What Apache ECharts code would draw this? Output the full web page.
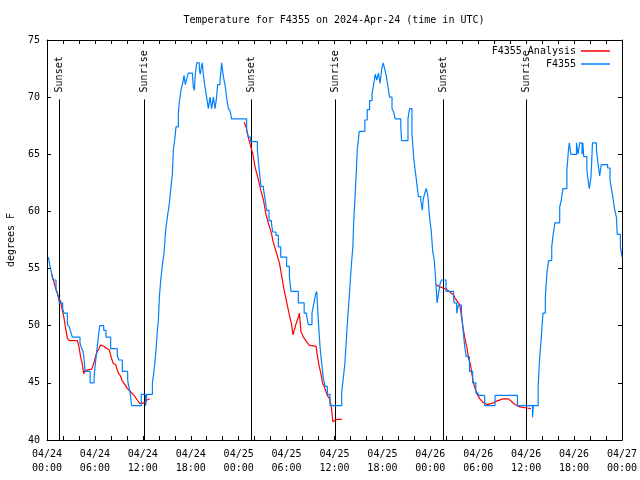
<!DOCTYPE html>
<html><head><meta charset="utf-8">
<script src="https://cdn.jsdelivr.net/npm/echarts@6/dist/echarts.min.js"></script>
<style>html,body{margin:0;padding:0;background:#fff}#c{width:640px;height:480px}</style>
</head><body><div id="c"></div>
<script>
// ---- data (hours since 04/24 00:00 UTC, degrees F) ----
const titleText = 'Temperature for F4355 on 2024-Apr-24 (time in UTC)';
const yAxisName = 'degrees F';
const seriesNames = ['F4355 Analysis', 'F4355'];
const xTickLabels = ['04/24\n00:00','04/24\n06:00','04/24\n12:00','04/24\n18:00','04/25\n00:00','04/25\n06:00','04/25\n12:00','04/25\n18:00','04/26\n00:00','04/26\n06:00','04/26\n12:00','04/26\n18:00','04/27\n00:00'];
const sunTimes = [1.54, 12.18, 25.58, 36.1, 49.62, 60.02];
const sunLabels = ['Sunset','Sunrise','Sunset','Sunrise','Sunset','Sunrise'];

const analysisNight1 = [[0.58,54.5],[0.8,54.0],[1.03,53.4],[1.3,52.8],[1.52,52.4],[1.7,52.1],[1.9,51.4],[2.1,50.8],[2.3,49.9],[2.55,48.9],[2.8,48.7],[3.8,48.7],[4.0,48.2],[4.2,47.3],[4.4,46.7],[4.6,45.8],[4.8,46.1],[5.0,46.1],[5.6,46.2],[5.8,46.6],[6.0,47.1],[6.2,47.6],[6.5,48.0],[6.7,48.3],[7.1,48.2],[7.5,48.0],[7.8,47.9],[7.9,47.6],[8.1,47.1],[8.3,46.7],[8.6,46.6],[8.8,46.1],[9.0,45.8],[9.2,45.6],[9.4,45.2],[9.6,45.0],[9.8,44.8],[10.06,44.5],[10.5,44.2],[10.9,43.9],[11.3,43.5],[11.6,43.2],[11.9,43.2],[12.3,43.3],[12.5,43.5],[12.85,43.6]];
const analysisNight2 = [[24.7,67.8],[25.0,67.2],[25.2,66.5],[25.5,65.7],[25.75,65.1],[26.05,63.9],[26.5,62.7],[26.75,61.9],[27.1,61.0],[27.4,59.8],[27.7,59.0],[28.1,58.1],[28.3,57.4],[28.76,56.3],[29.1,55.5],[29.4,54.3],[29.7,53.1],[30.0,52.1],[30.3,51.1],[30.6,50.2],[30.8,49.2],[30.95,49.3],[31.2,50.2],[31.5,50.8],[31.6,51.1],[31.8,49.5],[32.1,49.0],[32.5,48.6],[32.8,48.3],[33.7,48.2],[33.8,47.6],[34.1,46.4],[34.3,45.8],[34.5,45.0],[34.8,44.5],[35.1,43.9],[35.4,43.6],[35.6,42.9],[35.8,41.6],[36.1,41.75],[36.4,41.8],[36.9,41.8]];
const analysisNight3 = [[48.7,53.6],[49.2,53.4],[49.6,53.3],[50.05,53.2],[50.5,52.9],[50.9,52.7],[51.1,52.4],[51.4,52.1],[51.7,51.8],[51.9,50.8],[52.1,49.8],[52.3,49.0],[52.6,48.0],[52.8,47.1],[53.0,46.7],[53.2,45.8],[53.4,45.0],[53.6,44.5],[53.8,44.1],[54.2,43.6],[54.6,43.3],[55.1,43.1],[55.7,43.2],[56.3,43.4],[57.1,43.6],[57.8,43.6],[58.2,43.35],[58.6,43.1],[59.2,42.9],[60.1,42.8],[60.6,42.75]];

const observed = [[0.17,56.0],[0.3,55.5],[0.45,55.0],[0.6,54.5],[0.75,54.0],[1.13,53.1],[1.3,52.9],[1.54,52.0],[1.96,51.5],[2.13,51.1],[2.55,50.1],[2.8,49.9],[2.96,49.5],[3.17,49.0],[4.13,48.5],[4.34,48.0],[4.5,47.8],[4.67,46.9],[4.76,46.0],[5.4,45.0],[5.9,45.5],[6.0,46.3],[6.2,47.6],[6.43,49.0],[6.6,50.0],[7.1,49.6],[7.39,49.0],[7.97,48.0],[8.8,47.4],[9.0,47.0],[9.43,46.0],[10.1,45.25],[10.2,44.8],[10.4,44.2],[10.6,43.0],[11.8,44.0],[12.35,43.0],[12.5,44.0],[13.2,45.0],[13.35,45.8],[13.5,46.7],[13.65,47.9],[13.82,49.6],[13.95,50.5],[14.07,52.5],[14.24,54.0],[14.48,55.5],[14.65,56.3],[14.86,58.4],[15.07,59.5],[15.32,60.7],[15.49,61.9],[15.7,63.3],[15.82,65.4],[16.03,66.5],[16.15,67.4],[16.45,68.6],[16.57,69.6],[16.78,70.6],[16.99,71.2],[17.16,71.9],[17.32,71.1],[17.49,71.6],[17.7,72.1],[18.2,72.1],[18.32,70.9],[18.45,70.6],[18.57,72.0],[18.74,73.0],[18.95,73.0],[19.07,72.5],[19.2,72.0],[19.32,72.6],[19.45,73.0],[19.57,72.0],[19.78,70.9],[19.99,70.0],[20.2,69.0],[20.41,70.0],[20.62,69.0],[20.83,70.0],[21.04,69.0],[21.24,70.0],[21.37,71.1],[21.66,71.4],[21.87,73.0],[22.08,71.8],[22.29,71.1],[22.5,69.9],[22.71,69.0],[22.91,68.8],[23.12,68.1],[25.0,67.1],[25.21,66.5],[25.5,66.1],[26.34,65.4],[26.59,63.5],[26.8,62.2],[27.1,62.0],[27.3,61.1],[27.5,60.1],[27.8,59.2],[28.1,59.0],[28.26,58.2],[28.67,57.9],[28.97,56.9],[29.26,56.0],[30.0,55.2],[30.35,54.3],[30.55,53.0],[31.47,52.0],[32.2,51.1],[32.5,50.9],[32.72,50.1],[33.18,51.1],[33.43,52.0],[33.64,52.8],[33.77,53.0],[33.97,50.5],[34.18,48.2],[34.39,46.7],[34.6,45.4],[34.81,44.7],[35.1,44.0],[35.44,43.0],[36.9,44.1],[37.1,45.4],[37.3,46.7],[37.5,49.0],[37.7,51.1],[37.9,53.1],[38.1,55.2],[38.3,56.9],[38.4,59.0],[38.55,61.0],[38.7,63.0],[38.85,65.4],[39.1,67.0],[39.8,68.0],[40.1,68.9],[40.4,69.7],[40.7,70.3],[40.9,71.1],[41.1,72.0],[41.3,71.5],[41.5,72.1],[41.7,71.2],[41.9,72.4],[42.1,73.0],[42.3,72.4],[42.5,71.8],[42.7,70.9],[42.9,70.0],[43.2,69.0],[43.4,68.7],[43.6,68.1],[44.3,67.4],[44.4,66.2],[45.2,68.1],[45.4,69.0],[45.7,66.8],[45.9,64.8],[46.1,63.6],[46.3,62.5],[46.5,61.3],[46.8,61.0],[47.0,60.1],[47.1,61.0],[47.3,61.6],[47.5,62.0],[47.7,61.3],[47.9,59.5],[48.1,58.4],[48.3,56.5],[48.5,55.7],[48.6,54.7],[48.7,53.6],[48.85,52.0],[49.0,52.7],[49.2,53.6],[49.4,54.0],[49.96,53.0],[50.9,52.5],[51.0,52.0],[51.3,51.1],[51.5,51.8],[51.9,51.1],[52.0,50.4],[52.1,49.6],[52.3,48.2],[52.5,47.3],[52.9,46.0],[53.3,45.0],[53.7,44.1],[54.0,43.9],[54.8,43.0],[56.1,43.9],[58.9,43.0],[60.8,42.0],[60.9,43.0],[61.5,44.7],[61.7,47.3],[61.9,49.0],[62.1,51.1],[62.4,52.5],[62.6,54.6],[62.8,55.7],[63.2,56.9],[63.4,58.1],[63.6,59.0],[64.2,60.4],[64.4,61.0],[64.6,62.0],[65.1,63.6],[65.3,65.4],[65.4,66.0],[65.6,65.0],[66.3,66.0],[66.5,65.0],[66.7,66.0],[67.0,65.0],[67.1,66.0],[67.2,64.8],[67.6,63.6],[67.8,62.5],[67.9,62.0],[68.1,62.9],[68.2,64.2],[68.3,66.0],[68.8,65.4],[69.0,64.2],[69.2,63.1],[69.3,63.6],[69.4,64.1],[70.2,63.8],[70.5,62.7],[70.7,61.9],[70.9,61.0],[71.1,60.1],[71.3,59.5],[71.4,58.0],[71.8,56.9],[72.0,56.0]];

// ---- chart ----
const FONT = '"DejaVu Sans Mono", monospace';
const RED = '#ff0000', BLUE = '#0080ff';
const X_MIN = 0, X_MAX = 72, Y_MIN = 40, Y_MAX = 75;
const SUN_LINE_TOP = 69.8;

const chart = echarts.init(document.getElementById('c'), null, {renderer: 'canvas'});
const analysisData = analysisNight1.concat([[null, null]], analysisNight2, [[null, null]], analysisNight3);

const axisCommon = {
  axisLine: {show: true, onZero: false, lineStyle: {color: '#000', width: 1}},
  axisTick: {show: true, inside: true, length: 4, lineStyle: {color: '#000'}},
  splitLine: {show: false}
};

chart.setOption({
  animation: false,
  backgroundColor: '#fff',
  textStyle: {fontFamily: FONT, color: '#000'},
  title: {
    text: titleText, left: 334, top: 15, textAlign: 'center', padding: 0,
    textStyle: {fontFamily: FONT, fontSize: 10, fontWeight: 'normal', color: '#000'}
  },
  legend: [
    {data: [seriesNames[0]], right: 30, top: 46, padding: 0, align: 'right', icon: 'rect', itemWidth: 29, itemHeight: 1.5,
     textStyle: {fontFamily: FONT, fontSize: 10, color: '#000'}, selectedMode: false},
    {data: [seriesNames[1]], right: 30, top: 59, padding: 0, align: 'right', icon: 'rect', itemWidth: 29, itemHeight: 1.5,
     textStyle: {fontFamily: FONT, fontSize: 10, color: '#000'}, selectedMode: false}
  ],
  grid: {left: 47, right: 18, top: 40, bottom: 40, containLabel: false, outerBoundsMode: 'none'},
  xAxis: [
    Object.assign({type: 'value', position: 'bottom', min: X_MIN, max: X_MAX, interval: 2,
      axisLabel: {show: true, margin: 7, fontFamily: FONT, fontSize: 10, color: '#000', lineHeight: 14,
        formatter: v => (v % 6 === 0 ? xTickLabels[v / 6] : '')}}, axisCommon),
    Object.assign({type: 'value', position: 'top', min: X_MIN, max: X_MAX, interval: 2,
      axisLabel: {show: false}}, axisCommon)
  ],
  yAxis: [
    Object.assign({type: 'value', position: 'left', min: Y_MIN, max: Y_MAX, interval: 5,
      name: yAxisName, nameLocation: 'middle', nameGap: 31, nameRotate: 90,
      nameTextStyle: {fontFamily: FONT, fontSize: 10, color: '#000'},
      axisLabel: {show: true, margin: 7, fontFamily: FONT, fontSize: 10, color: '#000'}}, axisCommon),
    Object.assign({type: 'value', position: 'right', min: Y_MIN, max: Y_MAX, interval: 5,
      axisLabel: {show: false}}, axisCommon)
  ],
  series: [
    {
      type: 'custom', name: 'sun', silent: true, z: 1,
      xAxisIndex: 0, yAxisIndex: 0,
      data: sunTimes.map(t => [t, Y_MIN]),
      renderItem: function (params, api) {
        const h = api.value(0);
        const top = api.coord([h, SUN_LINE_TOP]);
        const bot = api.coord([h, Y_MIN]);
        const x = Math.round(top[0]) + 0.5;
        return {type: 'group', children: [
          {type: 'line', shape: {x1: x, y1: top[1], x2: x, y2: bot[1]}, style: {stroke: '#000', lineWidth: 1}},
          {type: 'text', x: x, y: top[1] - 7, rotation: Math.PI / 2,
           style: {text: sunLabels[params.dataIndex], align: 'left', verticalAlign: 'middle',
                   font: '10px "DejaVu Sans Mono", monospace', fill: '#000'}}
        ]};
      }
    },
    {
      type: 'line', name: seriesNames[0], data: analysisData, xAxisIndex: 0, yAxisIndex: 0,
      showSymbol: false, symbol: 'none', connectNulls: false, z: 3,
      lineStyle: {color: RED, width: 1.2}, itemStyle: {color: RED}
    },
    {
      type: 'line', name: seriesNames[1], data: observed, xAxisIndex: 0, yAxisIndex: 0,
      step: 'end', showSymbol: false, symbol: 'none', z: 4,
      lineStyle: {color: BLUE, width: 1.2}, itemStyle: {color: BLUE}
    }
  ]
});
</script>
</body></html>
